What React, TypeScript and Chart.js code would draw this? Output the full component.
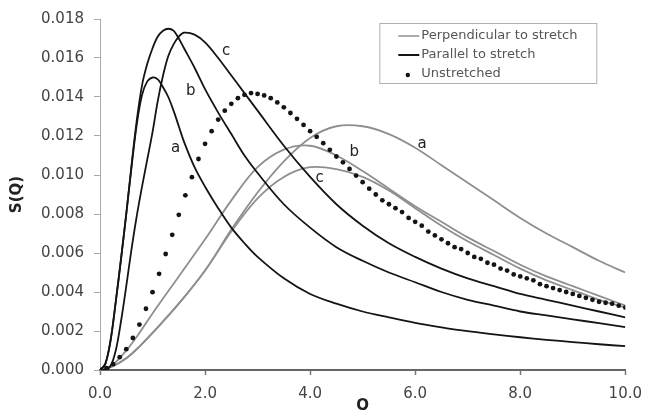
import React, { useEffect, useRef } from 'react';
import { Chart, registerables } from 'chart.js';

Chart.register(...registerables);

const FONT = '"DejaVu Sans", "Liberation Sans", sans-serif';

// Q grids
const Q_PAR = [0, 0.1, 0.2, 0.3, 0.4, 0.5, 0.6, 0.7, 0.8, 0.9, 1.0, 1.1, 1.2, 1.3, 1.4, 1.5, 1.6, 1.8, 2.0, 2.25, 2.5, 2.75, 3.0, 3.5, 4.0, 4.5, 5.0, 5.5, 6.0, 6.5, 7.0, 7.5, 8.0, 8.5, 9.0, 9.5, 10.0];
const Q_PERP = [0, 0.25, 0.5, 0.75, 1.0, 1.5, 2.0, 2.5, 3.0, 3.5, 4.0, 4.5, 5.0, 5.5, 6.0, 6.5, 7.0, 7.5, 8.0, 8.5, 9.0, 9.5, 10.0];
const Q_UN = [
  0, 0.125, 0.25, 0.375, 0.5, 0.625, 0.75, 0.875, 1.0, 1.125, 1.25, 1.375, 1.5, 1.625, 1.75, 1.875,
  2.0, 2.125, 2.25, 2.375, 2.5, 2.625, 2.75, 2.875, 3.0, 3.125, 3.25, 3.375, 3.5, 3.625, 3.75, 3.875,
  4.0, 4.125, 4.25, 4.375, 4.5, 4.625, 4.75, 4.875, 5.0, 5.125, 5.25, 5.375, 5.5, 5.625, 5.75, 5.875,
  6.0, 6.125, 6.25, 6.375, 6.5, 6.625, 6.75, 6.875, 7.0, 7.125, 7.25, 7.375, 7.5, 7.625, 7.75, 7.875,
  8.0, 8.125, 8.25, 8.375, 8.5, 8.625, 8.75, 8.875, 9.0, 9.125, 9.25, 9.375, 9.5, 9.625, 9.75, 9.875, 10.0,
];

// Parallel to stretch (black)
const PAR_A = [0, 0.0003, 0.0015, 0.0035, 0.0057, 0.0080, 0.0104, 0.0126, 0.0141, 0.0148, 0.0150, 0.0149, 0.0145, 0.0140, 0.0133, 0.0125, 0.0117, 0.0104, 0.0094, 0.0083, 0.0073, 0.0065, 0.0058, 0.0047, 0.0039, 0.0034, 0.0030, 0.0027, 0.00242, 0.00219, 0.00199, 0.00183, 0.00168, 0.00155, 0.00143, 0.00132, 0.00122];
const PAR_B = [0, 0.0003, 0.0015, 0.0035, 0.0057, 0.0080, 0.0105, 0.0128, 0.0146, 0.0157, 0.0165, 0.0171, 0.0174, 0.0175, 0.0174, 0.0170, 0.0165, 0.0155, 0.0144, 0.0132, 0.0121, 0.0110, 0.0101, 0.0085, 0.0073, 0.0063, 0.0056, 0.0050, 0.0045, 0.0040, 0.0036, 0.0033, 0.0030, 0.0028, 0.0026, 0.0024, 0.0022];
const PAR_C = [0, 0, 0.0002, 0.0010, 0.0025, 0.0043, 0.0062, 0.0079, 0.0094, 0.0108, 0.0122, 0.0138, 0.0151, 0.0161, 0.0167, 0.0171, 0.0173, 0.0172, 0.0168, 0.0160, 0.0151, 0.0142, 0.0133, 0.0115, 0.0099, 0.0085, 0.0074, 0.0065, 0.0058, 0.0052, 0.0047, 0.0043, 0.0039, 0.0036, 0.0033, 0.0030, 0.0027];

// Perpendicular to stretch (grey)
const PERP_A = [0, 0.0002, 0.0006, 0.0012, 0.0019, 0.0034, 0.0051, 0.0072, 0.0091, 0.0107, 0.0119, 0.0125, 0.0125, 0.0121, 0.0114, 0.0105, 0.0096, 0.0087, 0.0078, 0.0070, 0.0063, 0.0056, 0.0050];
const PERP_B = [0, 0.0003, 0.0010, 0.0019, 0.0029, 0.0048, 0.0067, 0.0087, 0.0104, 0.0113, 0.0115, 0.0110, 0.0102, 0.0093, 0.0084, 0.0076, 0.0068, 0.0061, 0.0054, 0.0048, 0.0043, 0.0038, 0.0033];
const PERP_C = [0, 0.0002, 0.0006, 0.0012, 0.0019, 0.0034, 0.0051, 0.0071, 0.0088, 0.0099, 0.0104, 0.0103, 0.0099, 0.0092, 0.0083, 0.0074, 0.0066, 0.0059, 0.0052, 0.0046, 0.0041, 0.0036, 0.0032];

// Unstretched (dots)
const UNSTRETCHED = [
  0, 0.0001, 0.0003, 0.00066, 0.00107, 0.00164, 0.00233, 0.00314, 0.00399, 0.00493, 0.00595, 0.00693, 0.00796, 0.00896, 0.00989, 0.01082,
  0.0116, 0.01225, 0.01284, 0.0133, 0.01365, 0.01394, 0.01411, 0.0142, 0.01416, 0.01408, 0.01394, 0.01372, 0.01347, 0.01318, 0.01288, 0.01257,
  0.01225, 0.01196, 0.01163, 0.01129, 0.01095, 0.01065, 0.01031, 0.00997, 0.00963, 0.0093, 0.0090, 0.0087, 0.0085, 0.0083, 0.0081, 0.0078,
  0.0076, 0.0074, 0.0071, 0.0069, 0.0067, 0.0065, 0.0063, 0.0062, 0.0060, 0.0058, 0.0057, 0.0055, 0.0054, 0.0052, 0.0051, 0.0049,
  0.0048, 0.0047, 0.0046, 0.0044, 0.0043, 0.0042, 0.0041, 0.0040, 0.0039, 0.0038, 0.0037, 0.0036, 0.0035, 0.00345, 0.0034, 0.0033, 0.0032,
];

// Curve annotations
const LABEL_TEXT = ['a', 'b', 'c', 'a', 'b', 'c'];
const LABEL_Q = [1.44, 1.73, 2.40, 6.13, 4.84, 4.18];
const LABEL_S = [0.01136, 0.0143, 0.01633, 0.01156, 0.01115, 0.00984];

// Axes
const X_TICKS = [0, 2, 4, 6, 8, 10];
const X_TICK_LABELS = ['0.0', '2.0', '4.0', '6.0', '8.0', '10.0'];
const Y_TICKS = [0, 0.002, 0.004, 0.006, 0.008, 0.01, 0.012, 0.014, 0.016, 0.018];
const Y_TICK_LABELS = ['0.000', '0.002', '0.004', '0.006', '0.008', '0.010', '0.012', '0.014', '0.016', '0.018'];

const LEGEND_LABELS = ['Perpendicular to stretch', 'Parallel to stretch', 'Unstretched'];

const GREY = '#8f8f8f';
const BLACK = '#141414';

export default function App() {
  const ref = useRef<HTMLCanvasElement>(null);

  useEffect(() => {
    document.body.style.margin = '0';
    const canvas = ref.current;
    if (!canvas) return;

    const pts = (xs: number[], ys: number[]) => xs.map((x, i) => ({ x, y: ys[i] }));
    const lineDs = (label: string, xs: number[], ys: number[], color: string, width: number, order: number) => ({
      label,
      data: pts(xs, ys),
      borderColor: color,
      backgroundColor: color,
      borderWidth: width,
      pointRadius: 0,
      fill: false,
      tension: 0.35,
      order,
    });

    const bgPlugin = {
      id: 'bg',
      beforeDraw(chart: any) {
        const { ctx, width, height } = chart;
        ctx.save();
        ctx.fillStyle = '#ffffff';
        ctx.fillRect(0, 0, width, height);
        ctx.restore();
      },
    };

    const curveLabels = {
      id: 'curveLabels',
      afterDatasetsDraw(chart: any) {
        const { ctx, scales } = chart;
        ctx.save();
        ctx.font = `15px ${FONT}`;
        ctx.fillStyle = '#222';
        ctx.textAlign = 'center';
        ctx.textBaseline = 'middle';
        LABEL_TEXT.forEach((t, i) => {
          const x = scales.x.getPixelForValue(LABEL_Q[i]);
          const y = scales.y.getPixelForValue(LABEL_S[i]);
          ctx.fillText(t, x, y);
        });
        ctx.restore();
      },
    };

    const boxLegend = {
      id: 'boxLegend',
      afterDraw(chart: any) {
        const { ctx, chartArea } = chart;
        const left = chartArea.right - 246;
        const top = chartArea.top + 4;
        const w = 217;
        const h = 60;
        ctx.save();
        ctx.strokeStyle = '#b0b0b0';
        ctx.lineWidth = 1;
        ctx.strokeRect(left + 0.5, top + 0.5, w, h);
        const rowY = [top + 13, top + 32, top + 51];
        const sx = left + 19;
        const ex = left + 40;
        ctx.strokeStyle = GREY;
        ctx.lineWidth = 1.5;
        ctx.beginPath();
        ctx.moveTo(sx, rowY[0]);
        ctx.lineTo(ex, rowY[0]);
        ctx.stroke();
        ctx.strokeStyle = BLACK;
        ctx.lineWidth = 2;
        ctx.beginPath();
        ctx.moveTo(sx, rowY[1]);
        ctx.lineTo(ex, rowY[1]);
        ctx.stroke();
        ctx.fillStyle = BLACK;
        ctx.beginPath();
        ctx.arc((sx + ex) / 2 - 1, rowY[2] + 1, 2.2, 0, Math.PI * 2);
        ctx.fill();
        ctx.font = `13px ${FONT}`;
        ctx.fillStyle = '#555';
        ctx.textAlign = 'left';
        ctx.textBaseline = 'middle';
        LEGEND_LABELS.forEach((t, i) => ctx.fillText(t, ex + 2, rowY[i]));
        ctx.restore();
      },
    };

    const tickFont = { family: FONT, size: 15 };

    const chart = new Chart(canvas, {
      type: 'line',
      data: {
        datasets: [
          lineDs('Perpendicular a', Q_PERP, PERP_A, GREY, 1.8, 3),
          lineDs('Perpendicular b', Q_PERP, PERP_B, GREY, 1.8, 3),
          lineDs('Perpendicular c', Q_PERP, PERP_C, GREY, 1.8, 3),
          lineDs('Parallel a', Q_PAR, PAR_A, BLACK, 1.8, 2),
          lineDs('Parallel b', Q_PAR, PAR_B, BLACK, 1.8, 2),
          lineDs('Parallel c', Q_PAR, PAR_C, BLACK, 1.8, 2),
          {
            label: 'Unstretched',
            data: pts(Q_UN, UNSTRETCHED),
            showLine: false,
            pointRadius: 2.4,
            pointBackgroundColor: BLACK,
            pointBorderWidth: 0,
            borderColor: BLACK,
            backgroundColor: BLACK,
            order: 1,
          } as any,
        ],
      },
      options: {
        animation: false,
        responsive: false,
        events: [],
        layout: { padding: { left: 0, right: 19, top: 15, bottom: 0 } },
        plugins: {
          legend: { display: false },
          tooltip: { enabled: false },
        },
        scales: {
          x: {
            type: 'linear',
            min: 0,
            max: 10,
            afterBuildTicks: (s: any) => {
              s.ticks = X_TICKS.map((v) => ({ value: v }));
            },
            afterFit: (s: any) => {
              s.height = 40;
            },
            ticks: {
              callback: (_v: any, i: number) => X_TICK_LABELS[i],
              font: tickFont,
              color: '#444',
              padding: 10,
              maxRotation: 0,
              autoSkip: false,
            },
            grid: { drawOnChartArea: false, drawTicks: true, tickLength: 5, color: '#777', tickWidth: 1.5 },
            border: { color: '#666', width: 2 },
            title: {
              display: true,
              text: 'Q',
              font: { family: FONT, size: 15, weight: 'bold' },
              color: '#222',
              padding: { top: 0, bottom: -5 },
            },
          },
          y: {
            type: 'linear',
            min: 0,
            max: 0.018,
            afterBuildTicks: (s: any) => {
              s.ticks = Y_TICKS.map((v) => ({ value: v }));
            },
            afterFit: (s: any) => {
              s.width = 100;
            },
            ticks: {
              callback: (_v: any, i: number) => Y_TICK_LABELS[i],
              font: tickFont,
              color: '#444',
              padding: 10,
              autoSkip: false,
            },
            grid: { drawOnChartArea: false, drawTicks: true, tickLength: 6, color: '#aaa' },
            border: { color: '#aaa', width: 1 },
            title: {
              display: true,
              text: 'S(Q)',
              font: { family: FONT, size: 15, weight: 'bold' },
              color: '#222',
              padding: { top: 8, bottom: 0 },
            },
          },
        },
      } as any,
      plugins: [bgPlugin, curveLabels, boxLegend],
    });

    return () => chart.destroy();
  }, []);

  return (
    <div style={{ width: 652, height: 410 }}>
      <canvas ref={ref} width={652} height={410} style={{ display: 'block' }} />
    </div>
  );
}
